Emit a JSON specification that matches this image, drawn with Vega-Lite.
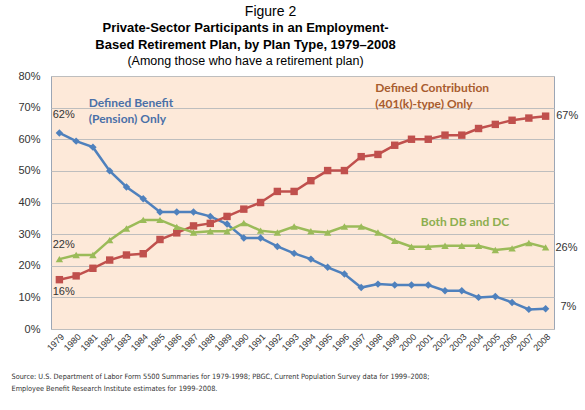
{
  "$schema": "https://vega.github.io/schema/vega-lite/v6.json",
  "background": "white",
  "padding": {"left": 10, "top": 5, "right": 5, "bottom": 5},
  "title": {"text": "Figure 2", "font": "Liberation Sans", "fontSize": 14, "fontWeight": "normal", "color": "#000000", "anchor": "middle", "frame": "group", "offset": 2, "dx": -32},
  "datasets": {
    "series": [
      {"year": 1979, "plan": "DB", "value": 62}, {"year": 1980, "plan": "DB", "value": 59.4}, {"year": 1981, "plan": "DB", "value": 57.5},
      {"year": 1982, "plan": "DB", "value": 50}, {"year": 1983, "plan": "DB", "value": 44.9}, {"year": 1984, "plan": "DB", "value": 41.2},
      {"year": 1985, "plan": "DB", "value": 37}, {"year": 1986, "plan": "DB", "value": 37}, {"year": 1987, "plan": "DB", "value": 37},
      {"year": 1988, "plan": "DB", "value": 35.6}, {"year": 1989, "plan": "DB", "value": 33.2}, {"year": 1990, "plan": "DB", "value": 28.8},
      {"year": 1991, "plan": "DB", "value": 28.8}, {"year": 1992, "plan": "DB", "value": 26.1}, {"year": 1993, "plan": "DB", "value": 23.9},
      {"year": 1994, "plan": "DB", "value": 22.1}, {"year": 1995, "plan": "DB", "value": 19.5}, {"year": 1996, "plan": "DB", "value": 17.4},
      {"year": 1997, "plan": "DB", "value": 13.1}, {"year": 1998, "plan": "DB", "value": 14.2}, {"year": 1999, "plan": "DB", "value": 13.9},
      {"year": 2000, "plan": "DB", "value": 13.9}, {"year": 2001, "plan": "DB", "value": 13.9}, {"year": 2002, "plan": "DB", "value": 12.1},
      {"year": 2003, "plan": "DB", "value": 12.1}, {"year": 2004, "plan": "DB", "value": 10}, {"year": 2005, "plan": "DB", "value": 10.3},
      {"year": 2006, "plan": "DB", "value": 8.4}, {"year": 2007, "plan": "DB", "value": 6.2}, {"year": 2008, "plan": "DB", "value": 6.4},
      {"year": 1979, "plan": "DC", "value": 15.6}, {"year": 1980, "plan": "DC", "value": 16.8}, {"year": 1981, "plan": "DC", "value": 19.2},
      {"year": 1982, "plan": "DC", "value": 21.8}, {"year": 1983, "plan": "DC", "value": 23.4}, {"year": 1984, "plan": "DC", "value": 23.8},
      {"year": 1985, "plan": "DC", "value": 28.3}, {"year": 1986, "plan": "DC", "value": 30.4}, {"year": 1987, "plan": "DC", "value": 32.6},
      {"year": 1988, "plan": "DC", "value": 33.4}, {"year": 1989, "plan": "DC", "value": 35.6}, {"year": 1990, "plan": "DC", "value": 37.9},
      {"year": 1991, "plan": "DC", "value": 40}, {"year": 1992, "plan": "DC", "value": 43.5}, {"year": 1993, "plan": "DC", "value": 43.5},
      {"year": 1994, "plan": "DC", "value": 46.9}, {"year": 1995, "plan": "DC", "value": 50.1}, {"year": 1996, "plan": "DC", "value": 50.1},
      {"year": 1997, "plan": "DC", "value": 54.5}, {"year": 1998, "plan": "DC", "value": 55.2}, {"year": 1999, "plan": "DC", "value": 58.1},
      {"year": 2000, "plan": "DC", "value": 60}, {"year": 2001, "plan": "DC", "value": 60}, {"year": 2002, "plan": "DC", "value": 61.3},
      {"year": 2003, "plan": "DC", "value": 61.3}, {"year": 2004, "plan": "DC", "value": 63.4}, {"year": 2005, "plan": "DC", "value": 64.7},
      {"year": 2006, "plan": "DC", "value": 66}, {"year": 2007, "plan": "DC", "value": 66.7}, {"year": 2008, "plan": "DC", "value": 67.3},
      {"year": 1979, "plan": "Both", "value": 22.1}, {"year": 1980, "plan": "Both", "value": 23.4}, {"year": 1981, "plan": "Both", "value": 23.4},
      {"year": 1982, "plan": "Both", "value": 28.1}, {"year": 1983, "plan": "Both", "value": 31.8}, {"year": 1984, "plan": "Both", "value": 34.5},
      {"year": 1985, "plan": "Both", "value": 34.5}, {"year": 1986, "plan": "Both", "value": 32.3}, {"year": 1987, "plan": "Both", "value": 30.5},
      {"year": 1988, "plan": "Both", "value": 30.9}, {"year": 1989, "plan": "Both", "value": 30.9}, {"year": 1990, "plan": "Both", "value": 33.5},
      {"year": 1991, "plan": "Both", "value": 31.1}, {"year": 1992, "plan": "Both", "value": 30.5}, {"year": 1993, "plan": "Both", "value": 32.4},
      {"year": 1994, "plan": "Both", "value": 30.9}, {"year": 1995, "plan": "Both", "value": 30.5}, {"year": 1996, "plan": "Both", "value": 32.4},
      {"year": 1997, "plan": "Both", "value": 32.4}, {"year": 1998, "plan": "Both", "value": 30.5}, {"year": 1999, "plan": "Both", "value": 27.9},
      {"year": 2000, "plan": "Both", "value": 26}, {"year": 2001, "plan": "Both", "value": 26}, {"year": 2002, "plan": "Both", "value": 26.3},
      {"year": 2003, "plan": "Both", "value": 26.3}, {"year": 2004, "plan": "Both", "value": 26.3}, {"year": 2005, "plan": "Both", "value": 25},
      {"year": 2006, "plan": "Both", "value": 25.5}, {"year": 2007, "plan": "Both", "value": 27.2}, {"year": 2008, "plan": "Both", "value": 25.8}
    ],
    "values_ann": [
      {"year": 1979.26, "value": 67.6, "text": "62%"},
      {"year": 1979.26, "value": 26.5, "text": "22%"},
      {"year": 1979.26, "value": 11.8, "text": "16%"},
      {"year": 2009.29, "value": 67.2, "text": "67%"},
      {"year": 2009.24, "value": 25.6, "text": "26%"},
      {"year": 2009.36, "value": 6.9, "text": "7%"}
    ],
    "series_ann": [
      {"year": 1980.75, "value": 71.4, "plan": "DB", "text": "Defined Benefit"},
      {"year": 1980.75, "value": 66.3, "plan": "DB", "text": "(Pension) Only"},
      {"year": 1997.84, "value": 76.1, "plan": "DC", "text": "Defined Contribution"},
      {"year": 1997.84, "value": 71.3, "plan": "DC", "text": "(401(k)-type) Only"},
      {"year": 2000.56, "value": 33.7, "plan": "Both", "text": "Both DB and DC"}
    ]
  },
  "vconcat": [
    {
      "width": 503,
      "height": 253,
      "title": {
        "text": ["Private-Sector Participants in an Employment-", "Based Retirement Plan, by Plan Type, 1979–2008"],
        "subtitle": "(Among those who have a retirement plan)",
        "font": "Liberation Sans", "fontSize": 13, "fontWeight": "bold", "color": "#000000", "lineHeight": 17,
        "subtitleFont": "Liberation Sans", "subtitleFontSize": 12.5, "subtitleColor": "#000000", "subtitlePadding": 3,
        "anchor": "middle", "frame": "group", "offset": 3, "dx": -57
      },
      "encoding": {
        "x": {"field": "year", "type": "quantitative",
          "scale": {"domain": [1978.5, 2008.5], "nice": false, "zero": false},
          "axis": {
            "values": [1979,1980,1981,1982,1983,1984,1985,1986,1987,1988,1989,1990,1991,1992,1993,1994,1995,1996,1997,1998,1999,2000,2001,2002,2003,2004,2005,2006,2007,2008],
            "format": "d", "labelAngle": -45, "labelFont": "Liberation Sans", "labelFontSize": 9, "labelColor": "#333333",
            "labelPadding": 3, "ticks": false, "domain": false, "grid": false, "labelFlush": false, "labelOverlap": false,
            "title": ["Source: U.S. Department of Labor Form 5500 Summaries for 1979-1998; PBGC, Current Population Survey data for 1999–2008;", "Employee Benefit Research Institute estimates for 1999–2008."],
            "titleFont": "DejaVu Sans Condensed, Liberation Sans", "titleFontSize": 7.3, "titleFontWeight": "normal", "titleColor": "#333333",
            "titleAnchor": "start", "titleAlign": "left", "titleBaseline": "top", "titleX": -40, "titleY": 43, "titleLineHeight": 12
          }},
        "y": {"field": "value", "type": "quantitative",
          "scale": {"domain": [0, 80], "nice": false},
          "axis": {
            "values": [0,10,20,30,40,50,60,70,80], "labelExpr": "datum.value + '%'", "labelOverlap": false,
            "labelFont": "Liberation Sans", "labelFontSize": 11, "labelColor": "#333333", "labelPadding": 11,
            "ticks": false, "domain": false, "grid": true, "gridColor": "#BEBEBE", "gridWidth": 1, "title": null
          }}
      },
      "layer": [
        {
          "data": {"name": "series"},
          "mark": {"type": "line", "strokeWidth": 2.5},
          "encoding": {
            "color": {"field": "plan", "type": "nominal", "legend": null,
              "scale": {"domain": ["DB", "DC", "Both"], "range": ["#4F81BD", "#C0504D", "#9BBB59"]}}
          }
        },
        {
          "data": {"name": "series"},
          "mark": {"type": "point", "filled": true, "opacity": 1, "size": 55},
          "encoding": {
            "color": {"field": "plan", "type": "nominal", "legend": null},
            "shape": {"field": "plan", "type": "nominal", "legend": null,
              "scale": {"domain": ["DB", "DC", "Both"], "range": ["diamond", "square", "triangle-up"]}}
          }
        },
        {
          "data": {"name": "values_ann"},
          "mark": {"type": "text", "font": "Liberation Sans", "fontSize": 11, "color": "#333333", "align": "center", "baseline": "middle", "clip": false},
          "encoding": {
            "text": {"field": "text", "type": "nominal"}
          }
        },
        {
          "data": {"name": "series_ann"},
          "transform": [{"filter": "datum.plan === 'DB'"}],
          "mark": {"type": "text", "font": "Lato", "fontSize": 12, "fontWeight": "bold", "align": "left", "baseline": "middle", "color": "#4A70A8"},
          "encoding": {
            "text": {"field": "text", "type": "nominal"}
          }
        },
        {
          "data": {"name": "series_ann"},
          "transform": [{"filter": "datum.plan === 'DC'"}],
          "mark": {"type": "text", "font": "Lato", "fontSize": 12, "fontWeight": "bold", "align": "left", "baseline": "middle", "color": "#A85C2E"},
          "encoding": {
            "text": {"field": "text", "type": "nominal"}
          }
        },
        {
          "data": {"name": "series_ann"},
          "transform": [{"filter": "datum.plan === 'Both'"}],
          "mark": {"type": "text", "font": "Lato", "fontSize": 12, "fontWeight": "bold", "align": "left", "baseline": "middle", "color": "#8CAE4E"},
          "encoding": {
            "text": {"field": "text", "type": "nominal"}
          }
        }
      ]
    }
  ],
  "config": {
    "view": {"fill": "#FDE9D9", "stroke": "#9CA6B5", "strokeWidth": 1},
    "concat": {"spacing": 0}
  }
}
